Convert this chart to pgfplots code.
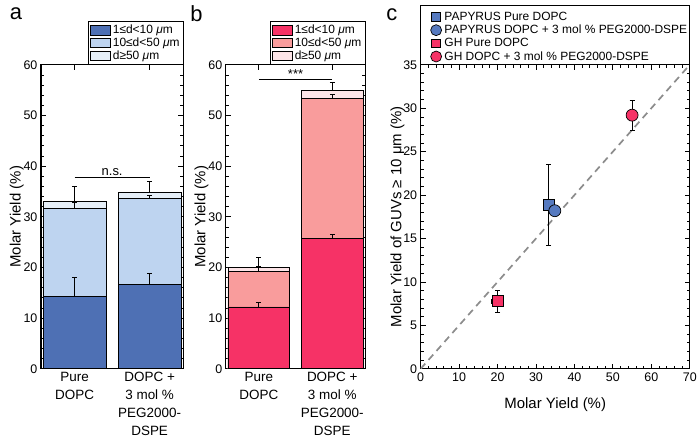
\documentclass[border=0pt]{standalone}
\usepackage{pgfplots}
\pgfplotsset{compat=1.18}
\usepackage{fontspec}
\setmainfont{Liberation Sans}
\definecolor{bA}{RGB}{78,112,180}
\definecolor{bB}{RGB}{190,212,240}
\definecolor{bC}{RGB}{230,239,248}
\definecolor{pA}{RGB}{246,50,102}
\definecolor{pB}{RGB}{249,156,156}
\definecolor{pC}{RGB}{252,228,231}
\definecolor{mB}{RGB}{86,122,192}
\pgfplotsset{
  common/.style={scale only axis, height=305bp,
    tick align=inside, axis line style={line width=1.3bp},
    major tick length=5bp, minor tick length=3bp,
    every tick/.style={black, line width=0.8bp},
    /pgf/number format/assume math mode=true,
    tick label style={font=\fontsize{12.5bp}{14bp}\selectfont},
    label style={font=\fontsize{15bp}{17bp}\selectfont},
  },
  barax/.style={common, ymin=0, ymax=60, xmin=-0.45, xmax=1.45,
    ytick={0,10,...,60}, minor y tick num=4, xtick={0,1},
    xticklabels={{Pure\\DOPC},{DOPC +\\3 mol \%\\PEG2000-\\DSPE}},
    xticklabel style={align=center, font=\fontsize{13.5bp}{18bp}\selectfont},
    ylabel={Molar Yield (\%)},
    ylabel style={yshift=-7bp},
    legend style={at={(1,1)}, anchor=south east, draw=black, line width=0.8bp,
      font=\fontsize{12bp}{13bp}\selectfont, inner sep=1.5bp,
      row sep=-1.3bp, cells={anchor=west}},
    legend image code/.code={\draw[#1, line width=0.6bp] (0bp,-4.8bp) rectangle (20bp,5bp);},
  },
  ebar/.style={draw=none, mark=none, forget plot,
    error bars/.cd, y dir=plus, y explicit,
    error bar style={draw=black, solid, line width=0.7bp},
    error mark options={draw=black, rotate=90, mark size=2.5bp, line width=0.7bp}, /pgfplots/.cd},
  cerr/.style={only marks, line width=0.7bp,
   error bars/.cd, x dir=both, y dir=both, x explicit, y explicit,
   error bar style={black, line width=0.7bp},
   error mark options={black, rotate=90, mark size=2.5bp, line width=0.7bp}, /pgfplots/.cd},
}
\begin{document}
\begin{tikzpicture}
\path (0,0) rectangle (700bp,442bp);
\node[font=\fontsize{22bp}{24bp}\selectfont] at (16bp,428bp) {a};
\node[font=\fontsize{22bp}{24bp}\selectfont] at (197bp,428bp) {b};
\node[font=\fontsize{22bp}{24bp}\selectfont] at (393bp,427bp) {c};
% panel a
\begin{axis}[barax, width=143bp, at={(41bp,72bp)}, anchor=south west]
\addlegendimage{fill=bA, draw=black}\addlegendentry{1≤d<10 \textit{μ}m}
\addlegendimage{fill=bB, draw=black}\addlegendentry{10≤d<50 \textit{μ}m}
\addlegendimage{fill=bC, draw=black}\addlegendentry{d≥50 \textit{μ}m}
\addplot[ybar, bar width=0.84, fill=bC, draw=black, line width=0.8bp, forget plot] coordinates {(0,33.1) (1,34.8)};
\addplot[ybar, bar width=0.84, fill=bB, draw=black, line width=0.8bp, forget plot] coordinates {(0,31.6) (1,33.7)};
\addplot[ybar, bar width=0.84, fill=bA, draw=black, line width=0.8bp, forget plot] coordinates {(0,14.3) (1,16.6)};
\addplot[ebar] coordinates {(0,14.3) +- (0,3.8) (1,16.6) +- (0,2.2) (0,31.6) +- (0,1.2) (1,33.7) +- (0,0.6) (0,33.1) +- (0,2.9) (1,34.8) +- (0,2.1)};
\draw[line width=0.8bp] (axis cs:0,37.7) -- (axis cs:1,37.7) node[midway, above, font=\fontsize{13bp}{14bp}\selectfont, inner sep=1.5bp] {n.s.};
\end{axis}
% panel b
\begin{axis}[barax, width=140bp, at={(226.5bp,72bp)}, anchor=south west]
\addlegendimage{fill=pA, draw=black}\addlegendentry{1≤d<10 \textit{μ}m}
\addlegendimage{fill=pB, draw=black}\addlegendentry{10≤d<50 \textit{μ}m}
\addlegendimage{fill=pC, draw=black}\addlegendentry{d≥50 \textit{μ}m}
\addplot[ybar, bar width=0.84, fill=pC, draw=black, line width=0.8bp, forget plot] coordinates {(0,20.0) (1,55.0)};
\addplot[ybar, bar width=0.84, fill=pB, draw=black, line width=0.8bp, forget plot] coordinates {(0,19.2) (1,53.3)};
\addplot[ybar, bar width=0.84, fill=pA, draw=black, line width=0.8bp, forget plot] coordinates {(0,12.2) (1,25.8)};
\addplot[ebar] coordinates {(0,12.2) +- (0,1.0) (1,25.8) +- (0,0.8) (0,19.2) +- (0,1.0) (1,53.3) +- (0,0.8) (0,20.0) +- (0,2.0) (1,55.0) +- (0,1.6)};
\draw[line width=0.8bp] (axis cs:0,57.1) -- (axis cs:1,57.1) node[midway, above, font=\fontsize{13bp}{14bp}\selectfont, inner sep=1bp] {***};
\end{axis}
% panel c
\begin{axis}[common, name=cax, at={(422bp,72bp)}, anchor=south west, width=270bp,
  xmin=0, xmax=70, ymin=0, ymax=35, xtick={0,10,...,70}, ytick={0,5,...,35},
  minor x tick num=4, minor y tick num=4,
  xlabel={Molar Yield (\%)}, ylabel={Molar Yield of GUVs ≥ 10 μm (\%)},
  ylabel style={yshift=-8bp}, xlabel style={yshift=-10bp},
  legend style={at={(0,1)}, anchor=south west, xshift=9bp, yshift=0.5bp, draw=none, fill=none,
    font=\fontsize{12bp}{13bp}\selectfont, inner xsep=0bp, inner ysep=0.5bp, row sep=-0.8bp,
    cells={anchor=west}},
  legend image code/.code={\path (0bp,0bp) (12bp,0bp); \draw[#1] plot coordinates {(6bp,0bp)};},
  ]
\addplot[gray!90, line width=1.7bp, dash pattern=on 7bp off 5bp, forget plot] coordinates {(0,0) (70,35)};
\addplot[cerr, mark=square*, mark size=5.5bp, mark options={fill=mB, draw=black, line width=0.7bp}, legend image post style={mark size=4.5bp}] coordinates {(33.3,18.9) +- (1.0,4.65)};
\addlegendentry{PAPYRUS Pure DOPC}
\addplot[cerr, mark=*, mark size=6bp, mark options={fill=mB, draw=black, line width=0.7bp}, legend image post style={mark size=5.5bp}] coordinates {(34.9,18.2) +- (1.3,0.5)};
\addlegendentry{PAPYRUS DOPC + 3 mol \% PEG2000-DSPE}
\addplot[cerr, mark=square*, mark size=5.5bp, mark options={fill=pA, draw=black, line width=0.7bp}, legend image post style={mark size=4.5bp}] coordinates {(20.0,7.8) +- (1.6,1.25)};
\addlegendentry{GH Pure DOPC}
\addplot[cerr, mark=*, mark size=6bp, mark options={fill=pA, draw=black, line width=0.7bp}, legend image post style={mark size=5.5bp}] coordinates {(55.0,29.2) +- (0.5,1.7)};
\addlegendentry{GH DOPC + 3 mol \% PEG2000-DSPE}
\end{axis}
\draw[line width=0.8bp] (cax.north west) rectangle ([yshift=60bp]cax.north east);
\end{tikzpicture}
\end{document}
